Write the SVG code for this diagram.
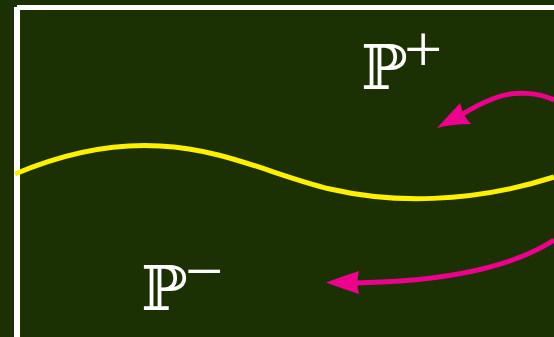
<svg xmlns="http://www.w3.org/2000/svg" width="554" height="337" viewBox="0 0 554 337">
<style>
.lbl{fill:#ffffff;font-family:"DejaVu Serif","Liberation Serif",serif;}
.big{font-size:62px;}
.sup{font-family:"Liberation Serif",serif;font-size:68px;fill:#ffffff;}
.arr{fill:none;stroke:#ec008c;stroke-width:5;}
.head{fill:#ec008c;}
</style>
<rect x="0" y="0" width="554" height="337" fill="#1b3104"/>
<g id="frame">
<rect x="14" y="7" width="6" height="330" fill="#ffffff"/>
<rect x="17" y="5" width="537" height="5" fill="#ffffff"/>
</g>
<g id="boundary">
<path d="M15,174 C60,155 110,143 160,146 C225,149 275,176 330,189 C390,203 470,204 554,177" fill="none" stroke="#fff000" stroke-width="5"/>
</g>
<g id="label-plus">
<text class="lbl big" x="361" y="89">ℙ</text>
<text class="sup" x="404" y="72" textLength="34">+</text>
</g>
<g id="label-minus">
<text class="lbl big" x="141" y="310">ℙ</text>
<text class="sup" x="185" y="294" textLength="32">−</text>
</g>
<g id="connectors">
<path class="arr" d="M554,100 C540,93 515,90 495,98 C482,103 472,108 463,114"/>
<path class="head" d="M437,128 L460,103 Q463,116 471,124 Q452,124 437,128 Z"/>
<path class="arr" d="M554,240 C520,262 470,276 400,281 C385,282 370,282.5 355,283"/>
<path class="head" d="M326,282.5 Q343,276 359,271 Q356,282.5 359,294 Q343,289 326,282.5 Z"/>
</g>
</svg>
